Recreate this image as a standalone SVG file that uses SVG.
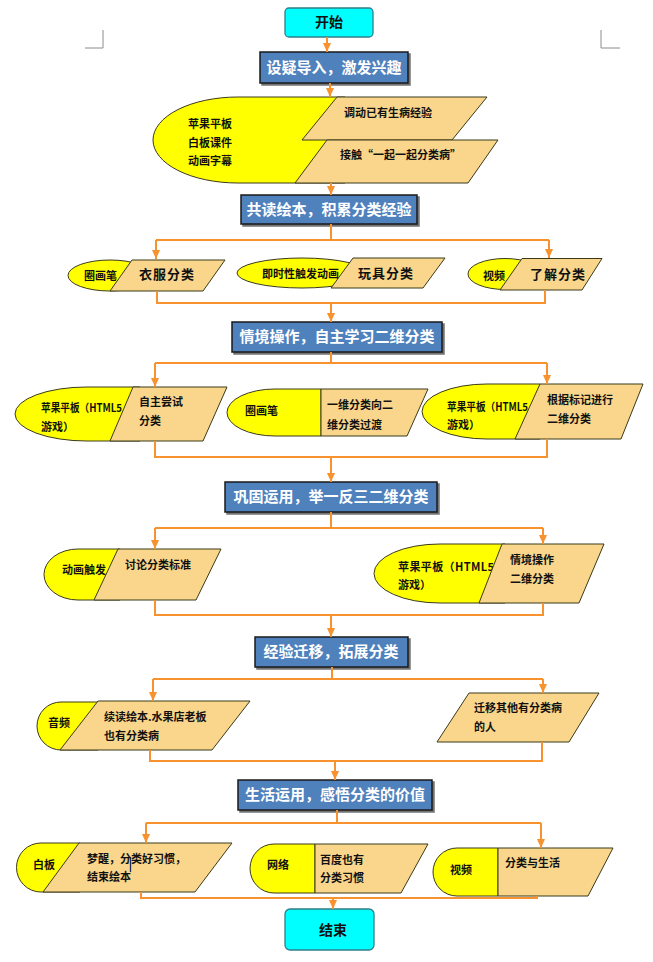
<svg xmlns="http://www.w3.org/2000/svg" width="653" height="962" viewBox="0 0 653 962">
<defs>
<marker id="arr" markerUnits="userSpaceOnUse" markerWidth="8" markerHeight="9" refX="4" refY="9" orient="0" viewBox="0 0 8 9">
<path d="M0 0 L8 0 L4 9 Z" fill="#F7922E"/>
</marker>
<filter id="sh" x="-10%" y="-10%" width="120%" height="140%">
<feDropShadow dx="2" dy="2" stdDeviation="0.6" flood-color="#000" flood-opacity="0.55"/>
</filter>
</defs>
<style>
text{font-family:"Noto Sans CJK SC","Noto Sans",sans-serif;font-weight:bold;fill:#111;}
.term{fill:#00FFFF;stroke:#2E7F8A;stroke-width:1.3;}
.step{fill:#4F81BD;stroke:#1A1A1A;stroke-width:1.5;filter:url(#sh);}
.st{fill:#fff;font-size:15px;font-weight:bold;text-anchor:middle;}
.tt{font-size:14px;text-anchor:middle;}
.y{fill:#FFFF00;stroke:#3A3A1A;stroke-width:1;}
.p{fill:#FAD68C;stroke:#3A3A1A;stroke-width:1;}
.s{font-size:11px;}
.m{font-size:13px;letter-spacing:1px;}
.c{fill:none;stroke:#F7922E;stroke-width:2;}
.ca{fill:none;stroke:#F7922E;stroke-width:2;marker-end:url(#arr);}
.mk{stroke:#8C8C8C;stroke-width:1;fill:none;}
</style>

<g id="corners">
<path class="mk" d="M85 48 H103 V30"/>
<path class="mk" d="M601 30 V48 H620"/>
</g>

<g id="start">
<rect class="term" x="285" y="8" width="88" height="29" rx="4"/>
<text class="tt" x="329" y="27">开始</text>
</g>

<g id="step1">
<rect class="step" x="260" y="52" width="148" height="31"/>
<text class="st" x="334" y="73">设疑导入，激发兴趣</text>
</g>

<g id="node1">
<path class="y" d="M345 97 H238 A85 43 0 0 0 238 183 H345 Z"/>
<text class="s" x="188" y="128">苹果平板</text>
<text class="s" x="188" y="147">白板课件</text>
<text class="s" x="188" y="165">动画字幕</text>
<polygon class="p" points="337,97 487,97 452,140 302,140"/>
<text class="s" x="344" y="117">调动已有生病经验</text>
<polygon class="p" points="327,140 498,140 468,183 295,183"/>
<text class="s" x="340" y="159">接触“一起一起分类病”</text>
</g>

<g id="step2">
<rect class="step" x="241" y="195" width="176" height="29"/>
<text class="st" x="329" y="215">共读绘本，积累分类经验</text>
</g>

<g id="node2a">
<ellipse class="y" cx="110" cy="275.5" rx="42" ry="15.5"/>
<text class="s" x="84" y="280">圈画笔</text>
<polygon class="p" points="132,260 225,260 203,291 110,291"/>
<text class="m" x="139" y="279">衣服分类</text>
</g>

<g id="node2b">
<ellipse class="y" cx="302" cy="273" rx="65" ry="15"/>
<text class="s" x="262" y="278">即时性触发动画</text>
<polygon class="p" points="353,258 445,258 423,288 331,288"/>
<text class="m" x="358" y="278">玩具分类</text>
</g>

<g id="node2c">
<ellipse class="y" cx="505" cy="274" rx="37" ry="15.5"/>
<text class="s" x="483" y="280">视频</text>
<polygon class="p" points="522,258.5 602,258.5 582,290 500,290"/>
<text class="m" x="530" y="279">了解分类</text>
</g>

<g id="step3">
<rect class="step" x="232" y="322" width="210" height="30"/>
<text class="st" x="337" y="342">情境操作，自主学习二维分类</text>
</g>

<g id="node3a">
<path class="y" d="M140 387 H87 A72 27 0 0 0 87 441 H140 Z"/>
<text class="s" x="41" y="412" textLength="81" lengthAdjust="spacingAndGlyphs">苹果平板（HTML5</text>
<text class="s" x="41" y="431">游戏）</text>
<polygon class="p" points="133,387 227,387 203,441 110,441"/>
<text class="s" x="139" y="406">自主尝试</text>
<text class="s" x="139" y="425">分类</text>
</g>

<g id="node3b">
<path class="y" d="M321 389 H275 A48 23.5 0 0 0 275 436 H321 Z"/>
<text class="s" x="245" y="415">圈画笔</text>
<path class="p" d="M321 389 H428 L407 436 H321 Z"/>
<text class="s" x="327" y="409">一维分类向二</text>
<text class="s" x="327" y="429">维分类过渡</text>
</g>

<g id="node3c">
<path class="y" d="M540 384 H487 A65 27.5 0 0 0 487 439 H540 Z"/>
<text class="s" x="447" y="411" textLength="81" lengthAdjust="spacingAndGlyphs">苹果平板（HTML5</text>
<text class="s" x="447" y="429">游戏）</text>
<polygon class="p" points="540,384 643,384 621,439 515,439"/>
<text class="s" x="547" y="404">根据标记进行</text>
<text class="s" x="547" y="423">二维分类</text>
</g>

<g id="step4">
<rect class="step" x="225" y="482" width="212" height="30"/>
<text class="st" x="331" y="502">巩固运用，举一反三二维分类</text>
</g>

<g id="node4a">
<path class="y" d="M120 549 H78 A34 25.5 0 0 0 78 600 H120 Z"/>
<text class="s" x="62" y="574">动画触发</text>
<polygon class="p" points="118,549 221,549 196,600 94,600"/>
<text class="s" x="125" y="569">讨论分类标准</text>
</g>

<g id="node4b">
<path class="y" d="M505 544 H440 A66 29.5 0 0 0 440 603 H505 Z"/>
<text class="s" x="398" y="571" textLength="96" lengthAdjust="spacing">苹果平板（HTML5</text>
<text class="s" x="398" y="589">游戏）</text>
<polygon class="p" points="502,544 604,544 579,603 479,603"/>
<text class="s" x="510" y="564">情境操作</text>
<text class="s" x="510" y="583">二维分类</text>
</g>

<g id="step5">
<rect class="step" x="255" y="637" width="153" height="30"/>
<text class="st" x="331" y="657">经验迁移，拓展分类</text>
</g>

<g id="node5a">
<path class="y" d="M98 702 H61 A24 24 0 0 0 61 750 H98 Z"/>
<text class="s" x="48" y="727">音频</text>
<polygon class="p" points="98,701 250,701 212,750 60,750"/>
<text class="s" x="104" y="721">续读绘本.水果店老板</text>
<text class="s" x="104" y="740">也有分类病</text>
</g>

<g id="node5b">
<polygon class="p" points="469,693 599,693 569,742 437,742"/>
<text class="s" x="474" y="712">迁移其他有分类病</text>
<text class="s" x="474" y="731">的人</text>
</g>

<g id="step6">
<rect class="step" x="238" y="780" width="194" height="30"/>
<text class="st" x="335" y="800">生活运用，感悟分类的价值</text>
</g>

<g id="node6a">
<path class="y" d="M80 843 H41 A24.5 24.5 0 0 0 41 892 H80 Z"/>
<text class="s" x="33" y="869">白板</text>
<polygon class="p" points="79,843 232,843 195,892 43,892"/>
<text class="s" x="87" y="863">梦醒，分类好习惯，</text>
<text class="s" x="87" y="881">结束绘本</text>
<path d="M130.5 857 V872" stroke="#1F2A5A" stroke-width="1.3"/>
</g>

<g id="node6b">
<path class="y" d="M315 844 H274 A24 24.5 0 0 0 274 893 H315 Z"/>
<text class="s" x="267" y="869">网络</text>
<path class="p" d="M315 844 H428 L401 893 H315 Z"/>
<text class="s" x="320" y="864">百度也有</text>
<text class="s" x="320" y="882">分类习惯</text>
</g>

<g id="node6c">
<path class="y" d="M498 848 H457 A24 24 0 0 0 457 896 H498 Z"/>
<text class="s" x="450" y="874">视频</text>
<path class="p" d="M498 848 H613 L588 896 H498 Z"/>
<text class="s" x="505" y="867">分类与生活</text>
</g>

<g id="end">
<rect class="term" x="285" y="909" width="89" height="41" rx="5"/>
<text class="tt" x="333" y="935">结束</text>
</g>

<g id="connectors">
<path class="ca" d="M327 37 V52"/>
<path class="ca" d="M330 83 V97"/>
<path class="ca" d="M331 183 V195"/>
<path class="c" d="M331 224 V240 M156 240 H549"/>
<path class="ca" d="M156 240 V259"/>
<path class="ca" d="M549 240 V258"/>
<path class="c" d="M157 291 V303 H545 V290"/>
<path class="ca" d="M331 303 V322"/>
<path class="c" d="M331 352 V363 M155 363 H547"/>
<path class="ca" d="M155 363 V387"/>
<path class="ca" d="M547 363 V384"/>
<path class="c" d="M155 441 V457 H547 V439"/>
<path class="ca" d="M331 457 V482"/>
<path class="c" d="M331 512 V528 M155 528 H543"/>
<path class="ca" d="M155 528 V549"/>
<path class="ca" d="M543 528 V544"/>
<path class="c" d="M155 600 V615 H543 V603"/>
<path class="ca" d="M331 615 V637"/>
<path class="c" d="M332 667 V679 M153 679 H543"/>
<path class="ca" d="M153 679 V701"/>
<path class="ca" d="M543 679 V693"/>
<path class="c" d="M150 750 V761 H542 V742"/>
<path class="ca" d="M335 761 V780"/>
<path class="c" d="M337 810 V823 M146 823 H541"/>
<path class="ca" d="M146 823 V843"/>
<path class="ca" d="M541 823 V848"/>
<path class="c" d="M141 892 V898 H537 V896"/>
<path class="ca" d="M333 898 V909"/>
</g>
</svg>
